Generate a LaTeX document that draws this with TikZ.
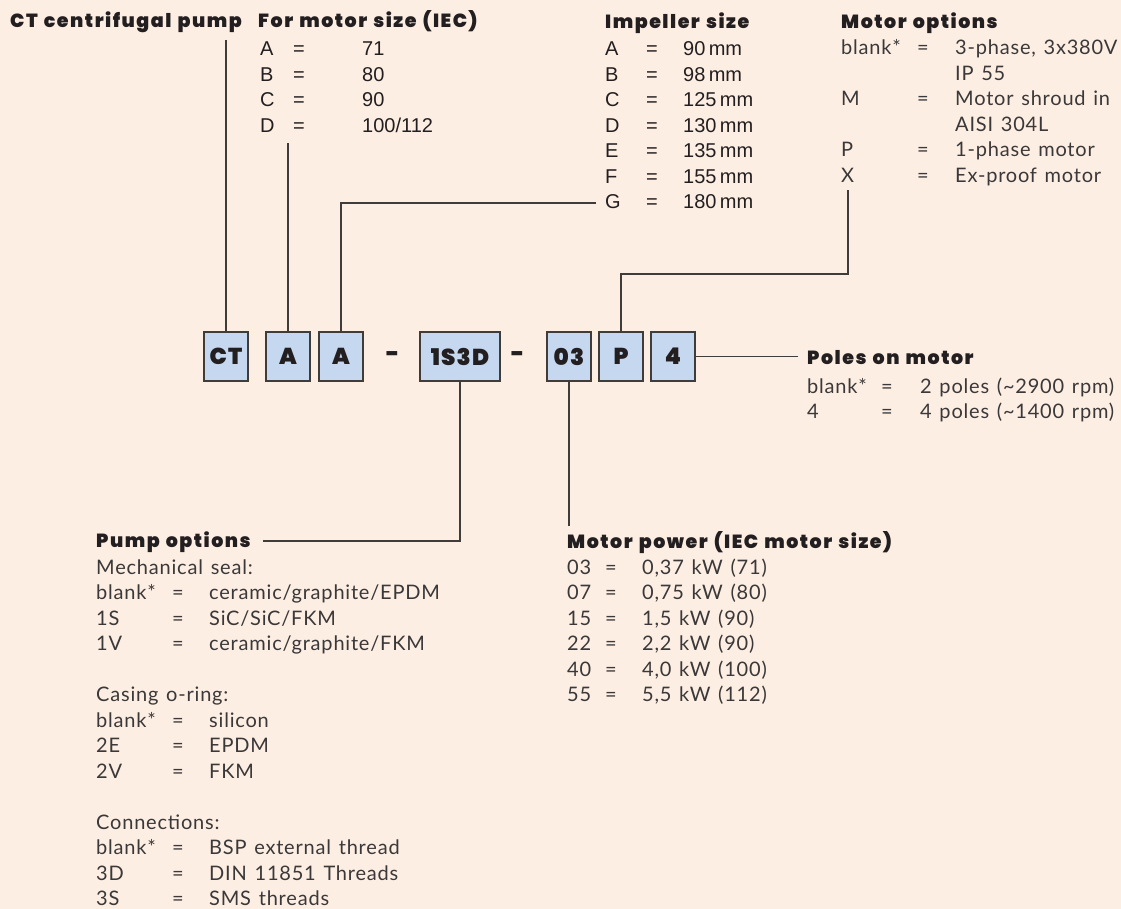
\documentclass[tikz,border=0pt]{standalone}
\usepackage{fontspec}
\usetikzlibrary{positioning}
\setmainfont{Lato}[LetterSpace=4.0, WordSpace=1.3]
\newfontfamily\heavyfont{Poppins Black}[LetterSpace=8.0, WordSpace=1.3]
\newfontfamily\boxfont{Poppins Black}[LetterSpace=5.0]
\newfontfamily\helvfont{Liberation Sans}
\definecolor{paper}{RGB}{253,238,227}
\definecolor{boxblue}{RGB}{197,216,240}
\definecolor{rule}{RGB}{64,60,58}
\definecolor{ink}{RGB}{35,31,32}
\definecolor{greyink}{RGB}{58,56,56}
\tikzset{
	codebox/.style={draw=rule, line width=1.2pt, outer sep=0pt, rectangle, inner sep=0pt, minimum width=44pt, minimum height=49pt, fill=boxblue, text=ink, font=\boxfont\fontsize{23}{23}\selectfont},
	hyphen/.style={inner sep=0pt, text=ink, font=\boxfont\fontsize{23}{23}\selectfont},
	% titles and option lists
	heading/.style={anchor=base west, inner sep=0pt, text=ink, font=\heavyfont\fontsize{19}{19}\selectfont},
	plain/.style={anchor=base west, inner sep=0pt, text=greyink, font=\fontsize{20}{25.5}\selectfont},
	helv/.style={anchor=base west, inner sep=0pt, text=ink, font=\helvfont\fontsize{20}{25.5}\selectfont},
}

\begin{document}
\begin{tikzpicture}[x=1pt, y=1pt]
	\path[use as bounding box, fill=paper] (0,0) rectangle (1121,-909);
	
	\node (pumptype) [heading] at (10,-28) {CT centrifugal pump};
	\node (sizetitle) [heading] at (258,-28) {For motor size (IEC)};
	\node (imptitle) [heading] at (605,-29) {Impeller size};
	\node (opttitle) [heading] at (841,-29) {Motor options};
	
	\node (sizelist) [helv] at (260,-56) {\begin{tabular}[t]{@{}p{33pt}@{}p{69pt}@{}l@{}}
			A & = & 71\\ B & = & 80\\ C & = & 90\\ D & = & 100/112
	\end{tabular}};
	\node (implist) [helv] at (605,-56) {\begin{tabular}[t]{@{}p{41pt}@{}p{37pt}@{}l@{}}
			A & = & 90\,mm\\ B & = & 98\,mm\\ C & = & 125\,mm\\ D & = & 130\,mm\\
			E & = & 135\,mm\\ F & = & 155\,mm\\ G & = & 180\,mm
	\end{tabular}};
	\node (optlist) [plain] at (841,-55) {\begin{tabular}[t]{@{}p{76pt}@{}p{38pt}@{}l@{}}
			blank* & = & 3-phase, 3x380V\\ & & IP 55\\
			M & = & Motor shroud in\\ & & AISI 304L\\
			P & = & 1-phase motor\\ X & = & Ex-proof motor
	\end{tabular}};
	
	\node (ct) [codebox] at (226,-356.5) {CT};
	\node (size) [codebox, right=18pt of ct] {A};
	\node (impeller) [codebox, right=9pt of size] {A};
	\node (hyphena) [hyphen, right=23pt of impeller] {-};
	\node (seal) [codebox, right=57pt of impeller, minimum width=80pt] {1S3D};
	\node (hyphenb) [hyphen, right=11pt of seal] {-};
	\node (power) [codebox, right=47pt of seal] {03};
	\node (motor) [codebox, right=8pt of power] {P};
	\node (poles) [codebox, right=8pt of motor] {4};
	
	\node (polestitle) [heading] at (807,-364) {Poles on motor};
	\node (poleslist) [plain] at (807,-393) {\begin{tabular}[t]{@{}p{74pt}@{}p{39pt}@{}l@{}}
			blank* & = & 2 poles (\textasciitilde 2900 rpm)\\ 4 & = & 4 poles (\textasciitilde 1400 rpm)
	\end{tabular}};
	
	\node (pumptitle) [heading] at (96,-547) {Pump options};
	\node (pumplist) [plain] at (96,-574) {\begin{tabular}[t]{@{}p{76pt}@{}p{37pt}@{}l@{}}
			\multicolumn{3}{@{}l@{}}{Mechanical seal:}\\
			blank* & = & ceramic/graphite/EPDM\\ 1S & = & SiC/SiC/FKM\\ 1V & = & ceramic/graphite/FKM\\[25.5pt]
			\multicolumn{3}{@{}l@{}}{Casing o-ring:}\\
			blank* & = & silicon\\ 2E & = & EPDM\\ 2V & = & FKM\\[25.5pt]
			\multicolumn{3}{@{}l@{}}{Connections:}\\
			blank* & = & BSP external thread\\ 3D & = & DIN 11851 Threads\\ 3S & = & SMS threads
	\end{tabular}};
	
	\node (powertitle) [heading] at (567,-548) {Motor power (IEC motor size)};
	\node (powerlist) [plain] at (567,-574) {\begin{tabular}[t]{@{}p{38pt}@{}p{37pt}@{}l@{}}
			03 & = & 0,37 kW (71)\\ 07 & = & 0,75 kW (80)\\ 15 & = & 1,5 kW (90)\\
			22 & = & 2,2 kW (90)\\ 40 & = & 4,0 kW (100)\\ 55 & = & 5,5 kW (112)
	\end{tabular}};
	
	\coordinate (ctend) at (226,-40);
	\coordinate (sizeend) at (288,-143);
	\coordinate (impend) at (596,-203);
	\coordinate (sealend) at (263,-541);
	\coordinate (powerend) at (569,-526);
	\coordinate (motorend) at (848,-190);
	\coordinate (polesend) at (798,-356.5);
	
	\begin{scope}[draw=rule, line width=1.3pt]
		\draw (ct.north) -- (ct.north |- ctend);
		\draw (size.north) -- (size.north |- sizeend);
		\draw (impeller.north) |- (impend);
		\draw (seal.south) |- (sealend);
		\draw (power.south) -- (power.south |- powerend);
		\draw (motor.north) |- ([yshift=-84pt]motorend) -- (motorend);
		\draw (poles) -- (polesend);
	\end{scope}
\end{tikzpicture}
\end{document}
